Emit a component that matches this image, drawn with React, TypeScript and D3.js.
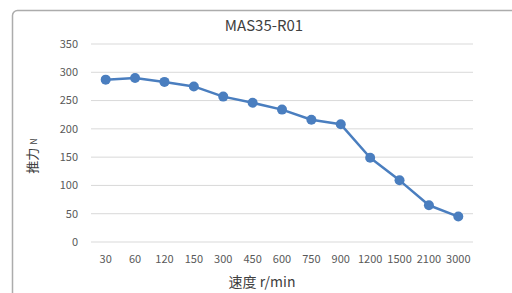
import React from "react";
import * as d3 from "d3";

const categories = ["30", "60", "120", "150", "300", "450", "600", "750", "900", "1200", "1500", "2100", "3000"];
const values = [287, 290, 283, 275, 257, 246, 234, 216, 208, 149, 109, 65, 45];
const yTicks = [0, 50, 100, 150, 200, 250, 300, 350];

const W = 512;
const H = 293;
const margin = { left: 91, right: 39, top: 44, bottom: 51 };

export default function App() {
  const x = d3.scaleBand().domain(categories).range([margin.left, W - margin.right]);
  const y = d3.scaleLinear().domain([0, 350]).range([H - margin.bottom, margin.top]);
  const line = d3
    .line<number>()
    .x((_, i) => (x(categories[i]) as number) + x.bandwidth() / 2)
    .y((d) => y(d));
  const font = "'Noto Sans CJK SC', 'Noto Sans', sans-serif";
  return (
    <svg width={W} height={H} style={{ position: "fixed", left: 0, top: 0 }} fontFamily={font}>
      <rect x={0} y={0} width={W} height={H} fill="#fff" />
      <rect x={12.5} y={10.5} width={540} height={320} rx={5} fill="#fff" stroke="#acacac" strokeWidth={1.5} />
      <text x={264} y={31} textAnchor="middle" fontSize={15} fill="#404040">MAS35-R01</text>
      {yTicks.map((t) => (
        <g key={t}>
          <line x1={margin.left} x2={W - margin.right} y1={y(t)} y2={y(t)} stroke="#d9d9d9" strokeWidth={1} />
          <text x={78} y={y(t)} dy="0.35em" textAnchor="end" fontSize={11} fill="#595959">{t}</text>
        </g>
      ))}
      {categories.map((c) => (
        <text key={c} x={(x(c) as number) + x.bandwidth() / 2} y={259} dy="0.35em" textAnchor="middle" fontSize={11} fill="#595959">{c}</text>
      ))}
      <path d={line(values) || ""} fill="none" stroke="#4a7ebf" strokeWidth={2.5} strokeLinejoin="round" />
      {values.map((v, i) => (
        <circle key={i} cx={(x(categories[i]) as number) + x.bandwidth() / 2} cy={y(v)} r={5} fill="#4a7ebf" />
      ))}
      <text x={262} y={287} textAnchor="middle" fontSize={14} fill="#404040">速度 r/min</text>
      <text transform="translate(37,156) rotate(-90)" textAnchor="middle" fontSize={13} fill="#404040">
        推力 <tspan fontSize={9}>N</tspan>
      </text>
    </svg>
  );
}
